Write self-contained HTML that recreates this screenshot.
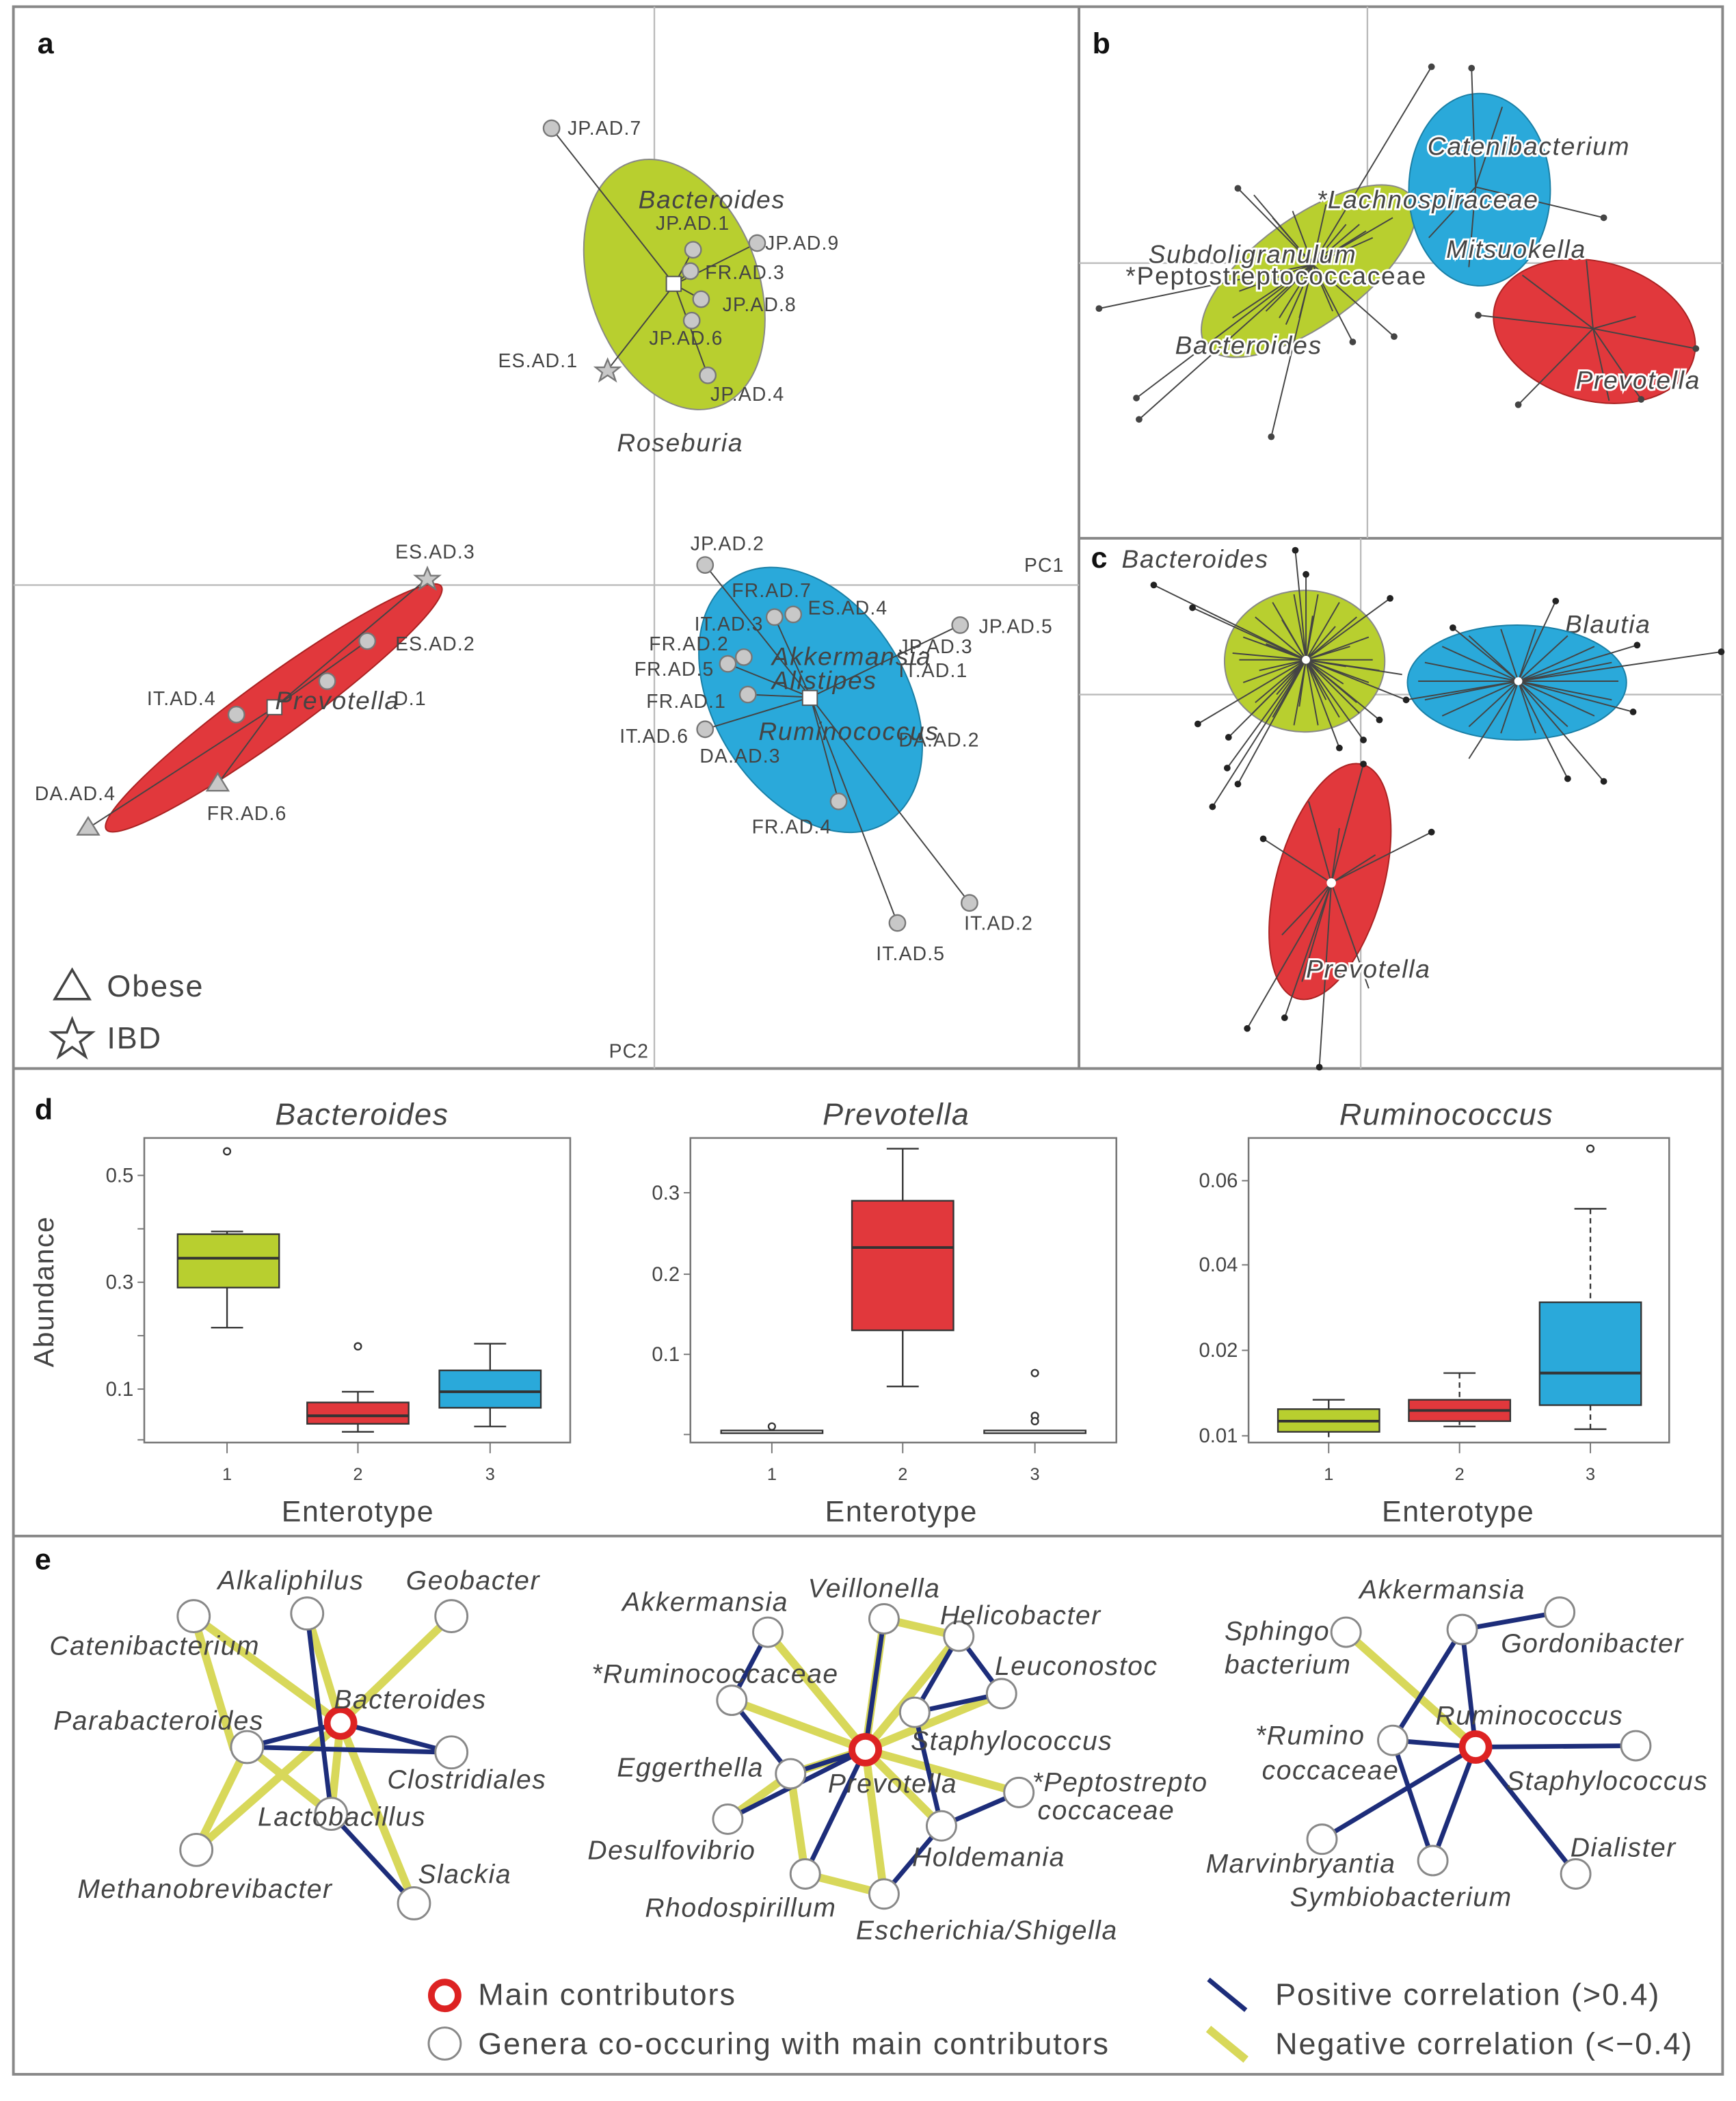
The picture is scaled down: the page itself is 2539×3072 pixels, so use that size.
<!DOCTYPE html>
<html><head><meta charset="utf-8"><style>
html,body{margin:0;padding:0;background:#fff}
svg{display:block}
text{font-family:"Liberation Sans",sans-serif;fill:#444}
.it{font-style:italic}
.lab{font-size:14.5px;fill:#555;letter-spacing:0.6px}
.sp{stroke:#444;stroke-width:1}
.g{fill:#b8cf2f}.b{fill:#2aa9da}.r{fill:#e1383c}
.pt{fill:#c8c8c8;stroke:#777;stroke-width:1.2}
.pos{stroke:#1d2d7a;stroke-width:3.5;fill:none}
.neg{stroke:#d8d85a;stroke-width:6;fill:none}
.nd{fill:#fff;stroke:#888;stroke-width:1.5}
.en{font-size:20px;font-style:italic;fill:#444;letter-spacing:0.8px}
.big{font-size:19px;letter-spacing:0.9px}
.leg{font-size:23px;letter-spacing:1px}
</style></head><body>
<svg width="2539" height="3072" viewBox="0 0 1300 1573" xmlns="http://www.w3.org/2000/svg">
<rect x="0" y="0" width="1300" height="1573" fill="#fff"/>
<g fill="none" stroke="#888" stroke-width="2">
<rect x="10" y="5" width="1280" height="1548"/>
<line x1="808" y1="5" x2="808" y2="800"/>
<line x1="808" y1="403" x2="1290" y2="403"/>
<line x1="10" y1="800" x2="1290" y2="800"/>
<line x1="10" y1="1150" x2="1290" y2="1150"/>
</g>
<!-- panel a -->
<g stroke="#bbb" stroke-width="1.2"><line x1="490" y1="5" x2="490" y2="800"/><line x1="10" y1="438" x2="808" y2="438"/></g>
<text x="28" y="40" style="font-weight:bold;font-size:22px;fill:#111">a</text>
<ellipse cx="505" cy="213" rx="63" ry="97" transform="rotate(-20 505 213)" class="g" stroke="#888" stroke-width="1"/>
<ellipse cx="205" cy="530" rx="155" ry="22" transform="rotate(-36 205 530)" class="r" stroke="#a22" stroke-width="1"/>
<ellipse cx="607" cy="524" rx="72" ry="108" transform="rotate(-32 607 524)" class="b" stroke="#1a7fa5" stroke-width="1"/>
<g class="sp">
<line x1="505" y1="213" x2="413" y2="96"/><line x1="505" y1="213" x2="455" y2="277"/><line x1="505" y1="213" x2="567" y2="182"/>
<line x1="505" y1="213" x2="519" y2="187"/><line x1="505" y1="213" x2="517" y2="203"/><line x1="505" y1="213" x2="525" y2="224"/><line x1="505" y1="213" x2="530" y2="281"/>
<line x1="607" y1="522" x2="528" y2="423"/><line x1="607" y1="522" x2="719" y2="468"/><line x1="607" y1="522" x2="726" y2="676"/><line x1="607" y1="522" x2="672" y2="691"/>
<line x1="607" y1="522" x2="560" y2="520"/><line x1="607" y1="522" x2="528" y2="546"/><line x1="607" y1="522" x2="628" y2="600"/><line x1="607" y1="522" x2="580" y2="462"/><line x1="607" y1="522" x2="545" y2="497"/>
<line x1="205" y1="530" x2="320" y2="433"/><line x1="205" y1="530" x2="66" y2="620"/><line x1="205" y1="530" x2="163" y2="587"/><line x1="205" y1="530" x2="275" y2="480"/>
</g>
<g class="pt">
<circle cx="413" cy="96" r="6"/><circle cx="567" cy="182" r="6"/><circle cx="519" cy="187" r="6"/><circle cx="517" cy="203" r="6"/><circle cx="525" cy="224" r="6"/><circle cx="518" cy="240" r="6"/><circle cx="530" cy="281" r="6"/>
<circle cx="528" cy="423" r="6"/><circle cx="719" cy="468" r="6"/><circle cx="726" cy="676" r="6"/><circle cx="672" cy="691" r="6"/><circle cx="580" cy="462" r="6"/><circle cx="594" cy="460" r="6"/><circle cx="545" cy="497" r="6"/><circle cx="557" cy="492" r="6"/><circle cx="560" cy="520" r="6"/><circle cx="528" cy="546" r="6"/><circle cx="628" cy="600" r="6"/>
<circle cx="275" cy="480" r="6"/><circle cx="245" cy="510" r="6"/><circle cx="177" cy="535" r="6"/>
<polygon points="455,269 457.5,275 464,275 459,279 461,285 455,281 449,285 451,279 446,275 452.5,275"/>
<polygon points="320,425 322.5,431 329,431 324,435 326,441 320,437 314,441 316,435 311,431 317.5,431"/>
<polygon points="66,612 74,625 58,625"/><polygon points="163,579 171,592 155,592"/>
</g>
<rect x="499" y="207" width="11" height="11" fill="#fff" stroke="#555"/><rect x="601" y="517" width="11" height="11" fill="#fff" stroke="#555"/><rect x="200" y="524" width="11" height="11" fill="#fff" stroke="#555"/>
<g class="lab">
<text x="425" y="101">JP.AD.7</text><text x="491" y="172">JP.AD.1</text><text x="573" y="187">JP.AD.9</text><text x="528" y="209">FR.AD.3</text><text x="541" y="233">JP.AD.8</text><text x="486" y="258">JP.AD.6</text><text x="532" y="300">JP.AD.4</text><text x="373" y="275">ES.AD.1</text>
<text x="517" y="412">JP.AD.2</text><text x="548" y="447">FR.AD.7</text><text x="605" y="460">ES.AD.4</text><text x="520" y="472">IT.AD.3</text><text x="486" y="487">FR.AD.2</text><text x="475" y="506">FR.AD.5</text><text x="484" y="530">FR.AD.1</text><text x="464" y="556">IT.AD.6</text><text x="524" y="571">DA.AD.3</text><text x="673" y="489">JP.AD.3</text><text x="673" y="507">IT.AD.1</text><text x="673" y="559">DA.AD.2</text><text x="733" y="474">JP.AD.5</text><text x="563" y="624">FR.AD.4</text><text x="722" y="696">IT.AD.2</text><text x="656" y="719">IT.AD.5</text>
<text x="296" y="418">ES.AD.3</text><text x="296" y="487">ES.AD.2</text><text x="110" y="528">IT.AD.4</text><text x="295" y="528">D.1</text><text x="26" y="599">DA.AD.4</text><text x="155" y="614">FR.AD.6</text>
<text x="767" y="428">PC1</text><text x="456" y="792">PC2</text>
</g>
<g class="it big">
<text x="478" y="156">Bacteroides</text><text x="462" y="338">Roseburia</text><text x="206" y="531">Prevotella</text>
<text x="578" y="498">Akkermansia</text><text x="578" y="516">Alistipes</text><text x="568" y="554">Ruminococcus</text>
</g>
<polygon points="41,748 54,726 67,748" fill="none" stroke="#444" stroke-width="1.8"/>
<text x="80" y="746" class="leg">Obese</text>
<polygon points="54,763 58,773 69,773 60,780 64,791 54,784 44,791 48,780 39,773 50,773" fill="none" stroke="#444" stroke-width="1.8"/>
<text x="80" y="785" class="leg">IBD</text>
<!-- panel b -->
<g stroke="#bbb" stroke-width="1.2"><line x1="1024" y1="5" x2="1024" y2="403"/><line x1="808" y1="197" x2="1290" y2="197"/></g>
<text x="818" y="40" style="font-weight:bold;font-size:22px;fill:#111">b</text>
<ellipse cx="980" cy="203" rx="95" ry="40" transform="rotate(-36 980 203)" class="g" stroke="#888"/>
<ellipse cx="1108" cy="142" rx="53" ry="72" class="b" stroke="#1a7fa5"/>
<ellipse cx="1194" cy="248" rx="77" ry="52" transform="rotate(15 1194 248)" class="r" stroke="#a22"/>
<g class="sp">
<path d="M983 198 l40 -25 M983 198 l35 -30 M983 198 l30 -18 M983 198 l45 -20 M983 198 l25 -30 M983 198 l-25 40 M983 198 l-35 35 M983 198 l-20 45 M983 198 l-45 30 M983 198 l-10 40 M983 198 l15 35 M983 198 l-30 -35 M983 198 l-15 -40 M983 198 l-55 20 M983 198 l60 -35 M983 198 l-60 40 M983 198 l10 -45"/>
<line x1="983" y1="198" x2="1072" y2="50"/><line x1="983" y1="198" x2="927" y2="141"/><line x1="983" y1="198" x2="823" y2="231"/><line x1="983" y1="198" x2="851" y2="298"/><line x1="983" y1="198" x2="853" y2="314"/><line x1="983" y1="198" x2="952" y2="327"/><line x1="983" y1="198" x2="1044" y2="252"/><line x1="983" y1="198" x2="1013" y2="256"/><line x1="983" y1="198" x2="939" y2="146"/>
<line x1="1105" y1="140" x2="1102" y2="51"/><line x1="1105" y1="140" x2="1201" y2="163"/><line x1="1105" y1="140" x2="1125" y2="80"/><line x1="1105" y1="140" x2="1070" y2="178"/><line x1="1105" y1="140" x2="1100" y2="200"/>
<line x1="1193" y1="246" x2="1107" y2="236"/><line x1="1193" y1="246" x2="1137" y2="303"/><line x1="1193" y1="246" x2="1270" y2="261"/><line x1="1193" y1="246" x2="1229" y2="299"/><line x1="1193" y1="246" x2="1225" y2="237"/><line x1="1193" y1="246" x2="1140" y2="206"/><line x1="1193" y1="246" x2="1188" y2="195"/><line x1="1193" y1="246" x2="1205" y2="300"/>
</g>
<g fill="#444">
<circle cx="1072" cy="50" r="2.5"/><circle cx="1102" cy="51" r="2.5"/><circle cx="927" cy="141" r="2.5"/><circle cx="823" cy="231" r="2.5"/><circle cx="851" cy="298" r="2.5"/><circle cx="853" cy="314" r="2.5"/><circle cx="952" cy="327" r="2.5"/><circle cx="1044" cy="252" r="2.5"/><circle cx="1013" cy="256" r="2.5"/><circle cx="1201" cy="163" r="2.5"/><circle cx="1107" cy="236" r="2.5"/><circle cx="1137" cy="303" r="2.5"/><circle cx="1270" cy="261" r="2.5"/><circle cx="1229" cy="299" r="2.5"/>
</g>
<g class="it big" style="stroke:#fff;stroke-width:3;paint-order:stroke">
<text x="1069" y="116">Catenibacterium</text><text x="986" y="156">*Lachnospiraceae</text><text x="1083" y="193">Mitsuokella</text>
<text x="860" y="197">Subdoligranulum</text><text x="843" y="213" style="font-style:normal">*Peptostreptococcaceae</text><text x="880" y="265">Bacteroides</text><text x="1180" y="291">Prevotella</text>
</g>
<!-- panel c -->
<g stroke="#bbb" stroke-width="1.2"><line x1="1019" y1="403" x2="1019" y2="800"/><line x1="808" y1="520" x2="1290" y2="520"/></g>
<text x="817" y="425" style="font-weight:bold;font-size:22px;fill:#111">c</text>
<text x="840" y="425" class="it big">Bacteroides</text>
<text x="1172" y="474" class="it big">Blautia</text>
<ellipse cx="977" cy="495" rx="60" ry="53" class="g" stroke="#888"/>
<ellipse cx="1136" cy="511" rx="82" ry="43" class="b" stroke="#1a7fa5"/>
<ellipse cx="996" cy="660" rx="40" ry="91" transform="rotate(15.6 996 660)" class="r" stroke="#a22"/>
<g class="sp">
<path d="M978 494 l50 0 M978 494 l47 17 M978 494 l38 32 M978 494 l25 43 M978 494 l9 49 M978 494 l-9 49 M978 494 l-25 43 M978 494 l-38 32 M978 494 l-47 17 M978 494 l-50 0 M978 494 l-47 -17 M978 494 l-38 -32 M978 494 l-25 -43 M978 494 l-9 -49 M978 494 l9 -49 M978 494 l25 -43 M978 494 l38 -32 M978 494 l47 -17
M978 494 l30 5 M978 494 l28 18 M978 494 l15 30 M978 494 l-5 35 M978 494 l-22 26 M978 494 l-35 8 M978 494 l-30 -12 M978 494 l-18 -30 M978 494 l5 -33 M978 494 l22 -25 M978 494 l33 -10 M978 494 l55 8 M978 494 l-55 -5 M978 494 l40 40 M978 494 l-40 40"/>
<line x1="978" y1="494" x2="864" y2="438"/><line x1="978" y1="494" x2="893" y2="455"/><line x1="978" y1="494" x2="970" y2="412"/><line x1="978" y1="494" x2="978" y2="430"/><line x1="978" y1="494" x2="1041" y2="448"/><line x1="978" y1="494" x2="897" y2="542"/><line x1="978" y1="494" x2="920" y2="552"/><line x1="978" y1="494" x2="919" y2="575"/><line x1="978" y1="494" x2="927" y2="587"/><line x1="978" y1="494" x2="908" y2="604"/><line x1="978" y1="494" x2="1003" y2="560"/><line x1="978" y1="494" x2="1021" y2="554"/><line x1="978" y1="494" x2="1033" y2="539"/><line x1="978" y1="494" x2="1053" y2="524"/><line x1="978" y1="494" x2="1050" y2="505"/>
<path d="M1137 510 l75 0 M1137 510 l70 14 M1137 510 l57 26 M1137 510 l37 34 M1137 510 l13 39 M1137 510 l-13 39 M1137 510 l-37 34 M1137 510 l-57 26 M1137 510 l-70 14 M1137 510 l-75 0 M1137 510 l-70 -14 M1137 510 l-57 -26 M1137 510 l-37 -34 M1137 510 l-13 -39 M1137 510 l13 -39 M1137 510 l37 -34 M1137 510 l57 -26 M1137 510 l70 -14"/>
<line x1="1137" y1="510" x2="1165" y2="450"/><line x1="1137" y1="510" x2="1289" y2="488"/><line x1="1137" y1="510" x2="1226" y2="483"/><line x1="1137" y1="510" x2="1223" y2="533"/><line x1="1137" y1="510" x2="1174" y2="583"/><line x1="1137" y1="510" x2="1201" y2="585"/><line x1="1137" y1="510" x2="1088" y2="470"/><line x1="1137" y1="510" x2="1053" y2="524"/><line x1="1137" y1="510" x2="1100" y2="568"/>
<line x1="997" y1="661" x2="1072" y2="623"/><line x1="997" y1="661" x2="946" y2="628"/><line x1="997" y1="661" x2="934" y2="770"/><line x1="997" y1="661" x2="962" y2="762"/><line x1="997" y1="661" x2="988" y2="799"/><line x1="997" y1="661" x2="1021" y2="572"/><line x1="997" y1="661" x2="1025" y2="740"/><line x1="997" y1="661" x2="980" y2="600"/><line x1="997" y1="661" x2="1030" y2="640"/><line x1="997" y1="661" x2="960" y2="700"/><line x1="997" y1="661" x2="1003" y2="620"/><line x1="997" y1="661" x2="975" y2="735"/>
</g>
<g fill="#222">
<circle cx="864" cy="438" r="2.5"/><circle cx="893" cy="455" r="2.5"/><circle cx="970" cy="412" r="2.5"/><circle cx="978" cy="430" r="2.5"/><circle cx="1041" cy="448" r="2.5"/><circle cx="897" cy="542" r="2.5"/><circle cx="920" cy="552" r="2.5"/><circle cx="919" cy="575" r="2.5"/><circle cx="927" cy="587" r="2.5"/><circle cx="908" cy="604" r="2.5"/><circle cx="1003" cy="560" r="2.5"/><circle cx="1021" cy="554" r="2.5"/><circle cx="1033" cy="539" r="2.5"/><circle cx="1053" cy="524" r="2.5"/>
<circle cx="1165" cy="450" r="2.5"/><circle cx="1289" cy="488" r="2.5"/><circle cx="1226" cy="483" r="2.5"/><circle cx="1223" cy="533" r="2.5"/><circle cx="1174" cy="583" r="2.5"/><circle cx="1201" cy="585" r="2.5"/><circle cx="1088" cy="470" r="2.5"/>
<circle cx="1072" cy="623" r="2.5"/><circle cx="946" cy="628" r="2.5"/><circle cx="934" cy="770" r="2.5"/><circle cx="962" cy="762" r="2.5"/><circle cx="988" cy="799" r="2.5"/><circle cx="1021" cy="572" r="2.5"/>
</g>
<circle cx="978" cy="494" r="3" fill="#fff"/><circle cx="1137" cy="510" r="3" fill="#fff"/><circle cx="997" cy="661" r="3.5" fill="#fff"/>
<text x="978" y="732" class="it big" style="stroke:#fff;stroke-width:3;paint-order:stroke">Prevotella</text>
<!-- panel d -->
<text x="26" y="838" style="font-weight:bold;font-size:22px;fill:#111">d</text>
<g style="font-size:23px;letter-spacing:0.8px" class="it"><text x="206" y="842">Bacteroides</text><text x="616" y="842">Prevotella</text><text x="1003" y="842">Ruminococcus</text></g>
<text transform="translate(40 967) rotate(-90)" text-anchor="middle" style="font-size:21px;letter-spacing:0.8px">Abundance</text>
<g style="font-size:22px;letter-spacing:0.8px" text-anchor="middle"><text x="268" y="1139">Enterotype</text><text x="675" y="1139">Enterotype</text><text x="1092" y="1139">Enterotype</text></g>
<g fill="none" stroke="#777" stroke-width="1.3"><rect x="108" y="852" width="319" height="228"/><rect x="517" y="852" width="319" height="228"/><rect x="935" y="852" width="315" height="228"/></g>
<g style="font-size:15px" text-anchor="end"><text x="100" y="885">0.5</text><text x="100" y="965">0.3</text><text x="100" y="1045">0.1</text>
<text x="509" y="898">0.3</text><text x="509" y="959">0.2</text><text x="509" y="1019">0.1</text>
<text x="927" y="889">0.06</text><text x="927" y="952">0.04</text><text x="927" y="1016">0.02</text><text x="927" y="1080">0.01</text></g>
<g stroke="#777"><line x1="103" y1="880" x2="108" y2="880"/><line x1="103" y1="920" x2="108" y2="920"/><line x1="103" y1="960" x2="108" y2="960"/><line x1="103" y1="1000" x2="108" y2="1000"/><line x1="103" y1="1040" x2="108" y2="1040"/><line x1="103" y1="1078" x2="108" y2="1078"/>
<line x1="512" y1="893" x2="517" y2="893"/><line x1="512" y1="954" x2="517" y2="954"/><line x1="512" y1="1014" x2="517" y2="1014"/><line x1="512" y1="1074" x2="517" y2="1074"/>
<line x1="930" y1="884" x2="935" y2="884"/><line x1="930" y1="947" x2="935" y2="947"/><line x1="930" y1="1011" x2="935" y2="1011"/><line x1="930" y1="1075" x2="935" y2="1075"/>
<path d="M170 1080 v8 M268 1080 v8 M367 1080 v8 M578 1080 v8 M676 1080 v8 M775 1080 v8 M995 1080 v8 M1093 1080 v8 M1191 1080 v8"/></g>
<g style="font-size:13px" text-anchor="middle"><text x="170" y="1108">1</text><text x="268" y="1108">2</text><text x="367" y="1108">3</text><text x="578" y="1108">1</text><text x="676" y="1108">2</text><text x="775" y="1108">3</text><text x="995" y="1108">1</text><text x="1093" y="1108">2</text><text x="1191" y="1108">3</text></g>
<g stroke="#333" stroke-width="1.2">
<line x1="170" y1="922" x2="170" y2="994"/><line x1="158" y1="922" x2="182" y2="922"/><line x1="158" y1="994" x2="182" y2="994"/>
<rect x="133" y="924" width="76" height="40" class="g"/><line x1="133" y1="942" x2="209" y2="942" stroke-width="2"/><circle cx="170" cy="862" r="2.5" fill="#fff"/>
<line x1="268" y1="1042" x2="268" y2="1072"/><line x1="256" y1="1042" x2="280" y2="1042"/><line x1="256" y1="1072" x2="280" y2="1072"/>
<rect x="230" y="1050" width="76" height="16" class="r"/><line x1="230" y1="1060" x2="306" y2="1060" stroke-width="2"/><circle cx="268" cy="1008" r="2.5" fill="#fff"/>
<line x1="367" y1="1006" x2="367" y2="1068"/><line x1="355" y1="1006" x2="379" y2="1006"/><line x1="355" y1="1068" x2="379" y2="1068"/>
<rect x="329" y="1026" width="76" height="28" class="b"/><line x1="329" y1="1042" x2="405" y2="1042" stroke-width="2"/>
<rect x="540" y="1071" width="76" height="2" fill="#fff"/><circle cx="578" cy="1068" r="2.5" fill="#fff"/>
<line x1="676" y1="860" x2="676" y2="1038"/><line x1="664" y1="860" x2="688" y2="860"/><line x1="664" y1="1038" x2="688" y2="1038"/>
<rect x="638" y="899" width="76" height="97" class="r"/><line x1="638" y1="934" x2="714" y2="934" stroke-width="2"/>
<rect x="737" y="1071" width="76" height="2" fill="#fff"/><circle cx="775" cy="1028" r="2.5" fill="#fff"/><circle cx="775" cy="1060" r="2.5" fill="#fff"/><circle cx="775" cy="1064" r="2.5" fill="#fff"/>
<line x1="995" y1="1048" x2="995" y2="1076"/><line x1="983" y1="1048" x2="1007" y2="1048"/>
<rect x="957" y="1055" width="76" height="17" class="g"/><line x1="957" y1="1064" x2="1033" y2="1064" stroke-width="2"/>
<line x1="1093" y1="1028" x2="1093" y2="1068" stroke-dasharray="4 3"/><line x1="1081" y1="1028" x2="1105" y2="1028"/><line x1="1081" y1="1068" x2="1105" y2="1068"/>
<rect x="1055" y="1048" width="76" height="16" class="r"/><line x1="1055" y1="1056" x2="1131" y2="1056" stroke-width="2"/>
<line x1="1191" y1="905" x2="1191" y2="1070" stroke-dasharray="4 3"/><line x1="1179" y1="905" x2="1203" y2="905"/><line x1="1179" y1="1070" x2="1203" y2="1070"/>
<rect x="1153" y="975" width="76" height="77" class="b"/><line x1="1153" y1="1028" x2="1229" y2="1028" stroke-width="2"/><circle cx="1191" cy="860" r="2.5" fill="#fff"/>
</g>
<!-- panel e -->
<text x="26" y="1175" style="font-weight:bold;font-size:22px;fill:#111">e</text>
<g class="neg"><path d="M145 1210 L255 1290 M145 1210 L175 1310 M230 1208 L255 1290 M338 1210 L255 1290 M185 1308 L248 1358 M185 1308 L147 1385 M255 1290 L147 1385 M255 1290 L310 1425 M255 1290 L248 1358"/></g>
<g class="pos"><path d="M230 1208 L248 1358 M185 1308 L255 1290 L338 1312 L185 1308 M248 1358 L310 1425"/></g>
<g class="nd"><circle cx="145" cy="1210" r="12"/><circle cx="230" cy="1208" r="12"/><circle cx="338" cy="1210" r="12"/><circle cx="185" cy="1308" r="12"/><circle cx="338" cy="1312" r="12"/><circle cx="248" cy="1358" r="12"/><circle cx="147" cy="1385" r="12"/><circle cx="310" cy="1425" r="12"/></g>
<circle cx="255" cy="1290" r="10" fill="#fff" stroke="#d22" stroke-width="5"/>
<g class="en"><text x="163" y="1190">Alkaliphilus</text><text x="304" y="1190">Geobacter</text><text x="37" y="1239">Catenibacterium</text><text x="250" y="1279">Bacteroides</text><text x="40" y="1295">Parabacteroides</text><text x="290" y="1339">Clostridiales</text><text x="193" y="1367">Lactobacillus</text><text x="58" y="1421">Methanobrevibacter</text><text x="313" y="1410">Slackia</text></g>
<!-- net2 -->
<g class="neg"><path d="M575 1222 L648 1310 M662 1212 L718 1225 M662 1212 L648 1310 M718 1225 L648 1310 M548 1273 L648 1310 M750 1268 L648 1310 M648 1310 L763 1342 M648 1310 L705 1367 M648 1310 L662 1418 M592 1328 L545 1362 M592 1328 L603 1403 M603 1403 L662 1418 M592 1328 L648 1310"/></g>
<g class="pos"><path d="M575 1222 L548 1273 M662 1212 L648 1310 M718 1225 L750 1268 M718 1225 L685 1282 M685 1282 L750 1268 M548 1273 L592 1328 M592 1328 L648 1310 M545 1362 L648 1310 M648 1310 L603 1403 M685 1282 L705 1367 M705 1367 L763 1342 M705 1367 L662 1418"/></g>
<g class="nd"><circle cx="575" cy="1222" r="11"/><circle cx="662" cy="1212" r="11"/><circle cx="718" cy="1225" r="11"/><circle cx="750" cy="1268" r="11"/><circle cx="548" cy="1273" r="11"/><circle cx="685" cy="1282" r="11"/><circle cx="592" cy="1328" r="11"/><circle cx="763" cy="1342" r="11"/><circle cx="545" cy="1362" r="11"/><circle cx="705" cy="1367" r="11"/><circle cx="603" cy="1403" r="11"/><circle cx="662" cy="1418" r="11"/></g>
<circle cx="648" cy="1310" r="10" fill="#fff" stroke="#d22" stroke-width="5"/>
<g class="en"><text x="466" y="1206">Akkermansia</text><text x="605" y="1196">Veillonella</text><text x="704" y="1216">Helicobacter</text><text x="745" y="1254">Leuconostoc</text><text x="443" y="1260">*Ruminococcaceae</text><text x="682" y="1310">Staphylococcus</text><text x="462" y="1330">Eggerthella</text><text x="620" y="1342">Prevotella</text><text x="773" y="1341">*Peptostrepto</text><text x="777" y="1362">coccaceae</text><text x="440" y="1392">Desulfovibrio</text><text x="683" y="1397">Holdemania</text><text x="483" y="1435">Rhodospirillum</text><text x="641" y="1452">Escherichia/Shigella</text></g>
<!-- net3 -->
<g class="neg"><path d="M1008 1222 L1105 1308"/></g>
<g class="pos"><path d="M1095 1220 L1105 1308 M1095 1220 L1043 1303 M1095 1220 L1168 1207 M1043 1303 L1105 1308 M1043 1303 L1073 1393 M1105 1308 L1225 1307 M1105 1308 L990 1377 M1105 1308 L1073 1393 M1105 1308 L1180 1403"/></g>
<g class="nd"><circle cx="1095" cy="1220" r="11"/><circle cx="1168" cy="1207" r="11"/><circle cx="1008" cy="1222" r="11"/><circle cx="1043" cy="1303" r="11"/><circle cx="1225" cy="1307" r="11"/><circle cx="990" cy="1377" r="11"/><circle cx="1073" cy="1393" r="11"/><circle cx="1180" cy="1403" r="11"/></g>
<circle cx="1105" cy="1308" r="10" fill="#fff" stroke="#d22" stroke-width="5"/>
<g class="en"><text x="1018" y="1197">Akkermansia</text><text x="1124" y="1237">Gordonibacter</text><text x="917" y="1228">Sphingo</text><text x="917" y="1253">bacterium</text><text x="1075" y="1291">Ruminococcus</text><text x="940" y="1306">*Rumino</text><text x="945" y="1332">coccaceae</text><text x="1128" y="1340">Staphylococcus</text><text x="903" y="1402">Marvinbryantia</text><text x="966" y="1427">Symbiobacterium</text><text x="1176" y="1390">Dialister</text></g>
<!-- legend -->
<circle cx="333" cy="1494" r="10" fill="#fff" stroke="#d22" stroke-width="5"/>
<circle cx="333" cy="1530" r="12" fill="#fff" stroke="#888" stroke-width="1.5"/>
<text x="358" y="1501" class="leg">Main contributors</text>
<text x="358" y="1538" class="leg">Genera co-occuring with main contributors</text>
<line x1="905" y1="1482" x2="933" y2="1505" class="pos"/>
<line x1="905" y1="1519" x2="933" y2="1542" class="neg"/>
<text x="955" y="1501" class="leg">Positive correlation (&gt;0.4)</text>
<text x="955" y="1538" class="leg">Negative correlation (&lt;−0.4)</text>
</svg>
</body></html>
